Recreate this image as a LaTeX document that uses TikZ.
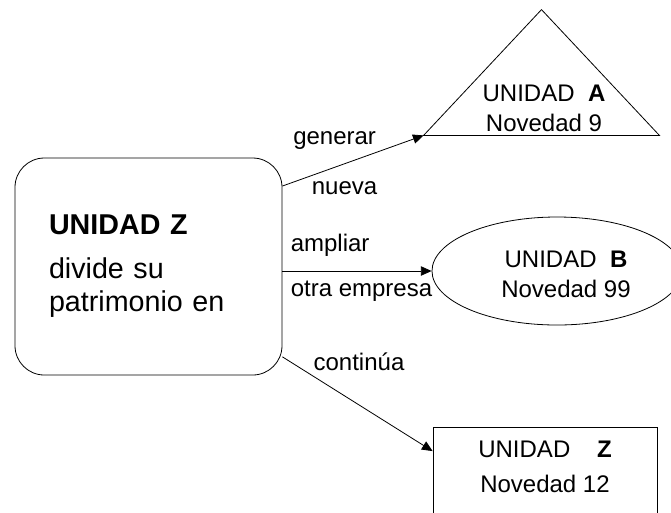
\documentclass[tikz,border=0pt]{standalone}
\usepackage{fontspec}
\setmainfont{Liberation Sans}
\usetikzlibrary{positioning,shapes.geometric,arrows.meta}
\tikzset{
  unidad/.style = {draw, inner sep=0pt},
  caja/.style   = {inner sep=0pt, align=center,
                   font=\fontsize{18}{22.5}\selectfont},
  lbl/.style    = {inner sep=0pt, font=\fontsize{18}{22.5}\selectfont},
  flecha/.style = {-{Triangle[length=8pt,width=7pt]}}
}

\begin{document}
\begin{tikzpicture}[x=0.75pt, y=-0.75pt, line width=0.6pt]
\useasboundingbox (0,0) rectangle (671,512);
% la unidad que se divide
\node [unidad, rounded corners=22pt, minimum height=162.75pt,
       inner xsep=25.5pt, text width=149.25pt, align=left,
       font=\fontsize{21.5}{24.75}\selectfont]
  (uZ) at (148.5,266.5) {\textbf{UNIDAD Z}\\[8.25pt]divide su\\patrimonio en};
% las tres unidades resultantes
\node [minimum width=176.25pt, minimum height=93.75pt, inner sep=0pt]
  (uA) at (541.5,72.5) {};
\draw (uA.north) -- (uA.south east) -- (uA.south west) -- cycle;
\node [unidad, ellipse, minimum width=187.5pt, minimum height=81pt]
  (uB) at (557,271) {};
\node [unidad, minimum width=168pt, minimum height=72pt]
  (uR) at (545,475) {};
\node [caja, anchor=north] (tA) at (544,85) {UNIDAD\ \ \textbf{A}\\Novedad 9};
\node [caja, anchor=north] (tB) at (566,251) {UNIDAD\ \ \textbf{B}\\Novedad 99};
\node [caja, anchor=north, font=\fontsize{18}{26.25}\selectfont]
  (tR) at (545,441) {UNIDAD\ \ \ \ \textbf{Z}\\Novedad 12};
% conectores
\draw [flecha] (uZ.31.7) -- (uA.south west)
  node [lbl, pos=.37, above=13.3pt] (eGen) {generar}
  node [lbl, pos=.44, below=12.7pt] (eNue) {nueva};
\draw [flecha] (uZ.east |- uB.west) -- (uB.west)
  node [lbl, pos=.32, above=10.5pt] (eAmp) {ampliar}
  node [lbl, pos=.53, below=7.5pt] (eOtr) {otra empresa};
\draw [flecha] (uZ.-34.4) -- (uR.168.4)
  node [lbl, pos=.51, above=25.5pt] (eCon) {continúa};
\end{tikzpicture}
\end{document}
